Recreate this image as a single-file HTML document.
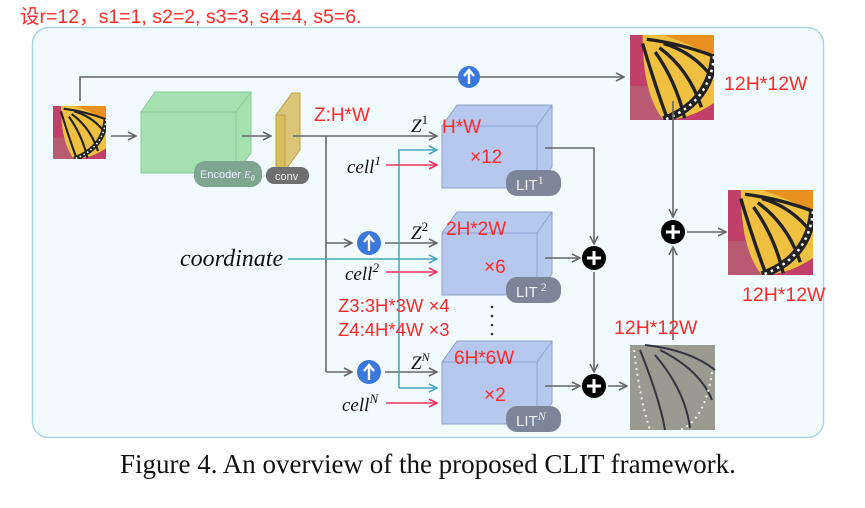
<!DOCTYPE html>
<html><head><meta charset="utf-8"><style>
body{margin:0;background:#fff;}
svg{display:block;}
.r{fill:#ff2a2a;font-family:"Liberation Sans","Noto Sans CJK SC",sans-serif;}
.m{font-family:"Liberation Serif",serif;font-style:italic;fill:#111;}
</style></head><body>
<svg width="865" height="508" viewBox="0 0 865 508" xmlns="http://www.w3.org/2000/svg">
<defs>
<marker id="ag" markerWidth="10" markerHeight="10" refX="9" refY="5" orient="auto" markerUnits="userSpaceOnUse"><path d="M1,1 L9,5 L1,9" fill="none" stroke="#666" stroke-width="1.6"/></marker>
<marker id="ac" markerWidth="10" markerHeight="10" refX="9" refY="5" orient="auto" markerUnits="userSpaceOnUse"><path d="M1,1 L9,5 L1,9" fill="none" stroke="#4aa8b8" stroke-width="1.6"/></marker>
<marker id="ar" markerWidth="10" markerHeight="10" refX="9" refY="5" orient="auto" markerUnits="userSpaceOnUse"><path d="M1,1 L9,5 L1,9" fill="none" stroke="#f03060" stroke-width="1.6"/></marker>
<symbol id="bf" viewBox="0 0 100 100" preserveAspectRatio="none">
<rect width="100" height="100" fill="#c0406a"/>
<rect x="0" y="60" width="40" height="40" fill="#b85a70"/>
<path d="M15,0 L100,0 L100,80 Q70,100 40,100 Q15,70 15,0Z" fill="#f0c040"/>
<path d="M40,0 L100,0 L100,25 Q70,10 40,0Z" fill="#e89020"/>
<g stroke="#222" stroke-width="4" fill="none">
<path d="M15,10 Q30,60 45,100"/><path d="M30,20 Q55,55 65,98"/><path d="M35,15 Q70,40 85,85"/><path d="M40,10 Q75,20 98,50"/><path d="M20,5 Q60,10 100,25"/>
</g>
<path d="M100,25 Q95,80 40,100" stroke="#222" stroke-width="9" fill="none"/>
<path d="M100,25 Q95,80 40,100" stroke="#fff" stroke-width="3" stroke-dasharray="3 5" fill="none"/>
</symbol>
</defs>
<text x="20" y="23" class="r" font-size="19.5">设r=12，s1=1, s2=2, s3=3, s4=4, s5=6.</text>
<rect x="32.5" y="27.5" width="791" height="410" rx="16" fill="#f1fbfe" stroke="#a9d5e2" stroke-width="1.5"/>
<use href="#bf" x="53" y="106" width="53" height="53"/>
<path d="M80,101 V77 H624" stroke="#666" stroke-width="1.6" fill="none" marker-end="url(#ag)"/>
<circle cx="469" cy="77" r="11" fill="#3b78dc"/><path d="M469,84 V71 M464,76 L469,70 L474,76" stroke="#fff" stroke-width="2.4" fill="none"/>
<path d="M111,136 H136" stroke="#666" stroke-width="1.6" marker-end="url(#ag)"/>
<path d="M141,112 L155,92 L251,92 L251,153 L236,173 Z" fill="#a3e2b0" stroke="#8cc89a"/>
<rect x="141" y="112" width="95" height="61" fill="#a3e2b0" stroke="#8cc89a"/>
<path d="M236,112 L251,92" stroke="#8cc89a"/>
<rect x="194" y="161" width="68" height="26" rx="11" fill="#7fa690"/>
<text x="200" y="178" font-family="Liberation Sans,sans-serif" font-size="11" fill="#eef">Encoder <tspan font-family="Liberation Serif,serif" font-style="italic">E<tspan font-size="8" dy="3">θ</tspan></tspan></text>
<path d="M242,136 H271" stroke="#666" stroke-width="1.6" marker-end="url(#ag)"/>
<path d="M276,115 L292,93 L300,93 L300,150 L284,172 Z" fill="#dbc578" stroke="#c0a040"/>
<rect x="276" y="115" width="9" height="57" fill="#d8be60" stroke="#c0a040"/>
<rect x="266" y="167" width="43" height="17" rx="8" fill="#6f6f6f"/>
<text x="275" y="180" font-family="Liberation Sans,sans-serif" font-size="11" fill="#eee">conv</text>
<text x="314" y="121" class="r" font-size="19">Z:H*W</text>
<path d="M293,136 H437" stroke="#666" stroke-width="1.6" marker-end="url(#ag)"/>
<path d="M326,136 V372" stroke="#666" stroke-width="1.6" fill="none"/>
<path d="M326,243 H352" stroke="#666" stroke-width="1.6" marker-end="url(#ag)"/>
<path d="M326,372 H352" stroke="#666" stroke-width="1.6" marker-end="url(#ag)"/>
<g><circle cx="369" cy="243" r="12" fill="#3b78dc"/><path d="M369,251 V237 M364,242 L369,236 L374,242" stroke="#fff" stroke-width="2.4" fill="none"/></g>
<g><circle cx="369" cy="372" r="12" fill="#3b78dc"/><path d="M369,380 V366 M364,371 L369,365 L374,371" stroke="#fff" stroke-width="2.4" fill="none"/></g>
<path d="M385,243 H437" stroke="#666" stroke-width="1.6" marker-end="url(#ag)"/>
<path d="M385,372 H437" stroke="#666" stroke-width="1.6" marker-end="url(#ag)"/>
<path d="M288,259 H437" stroke="#4aa8b8" stroke-width="1.6" marker-end="url(#ac)"/>
<path d="M399,388 V150 H437" stroke="#4aa8b8" stroke-width="1.6" fill="none" marker-end="url(#ac)"/>
<path d="M399,388 H437" stroke="#4aa8b8" stroke-width="1.6" marker-end="url(#ac)"/>
<path d="M386,165 H437" stroke="#f03060" stroke-width="1.6" marker-end="url(#ar)"/>
<path d="M386,272 H437" stroke="#f03060" stroke-width="1.6" marker-end="url(#ar)"/>
<path d="M386,403 H437" stroke="#f03060" stroke-width="1.6" marker-end="url(#ar)"/>
<text x="180" y="266" class="m" font-size="24">coordinate</text>
<text x="347" y="173" class="m" font-size="19">cell<tspan font-size="13" dy="-8">1</tspan></text>
<text x="345" y="280" class="m" font-size="19">cell<tspan font-size="13" dy="-8">2</tspan></text>
<text x="342" y="411" class="m" font-size="19">cell<tspan font-size="13" dy="-8">N</tspan></text>
<text x="411" y="132" class="m" font-size="19">Z<tspan font-size="13" dy="-8" font-style="normal">1</tspan></text>
<text x="411" y="239" class="m" font-size="19">Z<tspan font-size="13" dy="-8" font-style="normal">2</tspan></text>
<text x="411" y="369" class="m" font-size="19">Z<tspan font-size="12" dy="-8">N</tspan></text>
<g id="b1">
<path d="M442,126 L457,105 L552,105 L552,167 L537,188 L442,188Z" fill="#b7c8ef" stroke="#8fa0cc"/>
<path d="M442,126 H537 V188 M537,126 L552,105" fill="none" stroke="#8fa0cc"/>
</g>
<use href="#b1" y="107"/>
<use href="#b1" y="236"/>
<rect x="506" y="170" width="55" height="26" rx="11" fill="#7d8699"/>
<text x="516" y="190" font-family="Liberation Sans,sans-serif" font-size="15" fill="#eee">LIT<tspan font-family="Liberation Serif,serif" font-size="12" dy="-6">1</tspan></text>
<rect x="506" y="277" width="55" height="26" rx="11" fill="#7d8699"/>
<text x="516" y="297" font-family="Liberation Sans,sans-serif" font-size="15" fill="#eee">LIT<tspan font-family="Liberation Serif,serif" font-size="12" dy="-6"> 2</tspan></text>
<rect x="506" y="406" width="55" height="26" rx="11" fill="#7d8699"/>
<text x="516" y="426" font-family="Liberation Sans,sans-serif" font-size="15" fill="#eee">LIT<tspan font-family="Liberation Serif,serif" font-style="italic" font-size="12" dy="-6">N</tspan></text>
<text x="442" y="133" class="r" font-size="19">H*W</text>
<text x="470" y="163" class="r" font-size="19">×12</text>
<text x="446" y="235" class="r" font-size="19">2H*2W</text>
<text x="484" y="273" class="r" font-size="19">×6</text>
<text x="454" y="364" class="r" font-size="19">6H*6W</text>
<text x="484" y="401" class="r" font-size="19">×2</text>
<text x="338" y="312" class="r" font-size="18.5">Z3:3H*3W  ×4</text>
<text x="338" y="336" class="r" font-size="18.5">Z4:4H*4W  ×3</text>
<g fill="#333"><circle cx="492" cy="307" r="1.3"/><circle cx="492" cy="316" r="1.3"/><circle cx="492" cy="325" r="1.3"/><circle cx="492" cy="334" r="1.3"/></g>
<path d="M545,148 H594 V244" stroke="#666" stroke-width="1.6" fill="none" marker-end="url(#ag)"/>
<path d="M545,258 H580" stroke="#666" stroke-width="1.6" marker-end="url(#ag)"/>
<path d="M594,272 V372" stroke="#666" stroke-width="1.6" marker-end="url(#ag)"/>
<path d="M545,386 H580" stroke="#666" stroke-width="1.6" marker-end="url(#ag)"/>
<path d="M608,386 H627" stroke="#666" stroke-width="1.6" marker-end="url(#ag)"/>
<g id="p1"><circle cx="594" cy="258" r="12" fill="#000"/><path d="M594,251 V265 M587,258 H601" stroke="#fff" stroke-width="3"/></g>
<use href="#p1" y="128"/>
<use href="#p1" x="79" y="-26"/>
<use href="#bf" x="630" y="35" width="84" height="85"/>
<use href="#bf" x="728" y="190" width="85" height="85"/>
<rect x="630" y="345" width="85" height="85" fill="#9a9a90"/>
<g stroke="#334" stroke-width="2" fill="none"><path d="M640,350 Q660,400 665,430"/><path d="M655,355 Q685,390 690,428"/><path d="M660,350 Q700,370 712,400"/><path d="M645,345 Q690,350 715,370"/></g>
<g stroke="#eee" stroke-width="2" stroke-dasharray="2 4" fill="none"><path d="M634,350 Q640,400 650,430"/><path d="M712,372 Q705,420 680,430"/></g>
<path d="M673,101 V217" stroke="#666" stroke-width="1.6" marker-end="url(#ag)"/>
<path d="M673,340 V247" stroke="#666" stroke-width="1.6" marker-end="url(#ag)"/>
<path d="M687,232 H726" stroke="#666" stroke-width="1.6" marker-end="url(#ag)"/>
<text x="724" y="90" class="r" font-size="19.5">12H*12W</text>
<text x="742" y="301" class="r" font-size="19.5">12H*12W</text>
<text x="614" y="334" class="r" font-size="19.5">12H*12W</text>
<text x="120" y="473" font-family="Liberation Serif,serif" font-size="27" fill="#111">Figure 4. An overview of the proposed CLIT framework.</text>
</svg>
</body></html>
